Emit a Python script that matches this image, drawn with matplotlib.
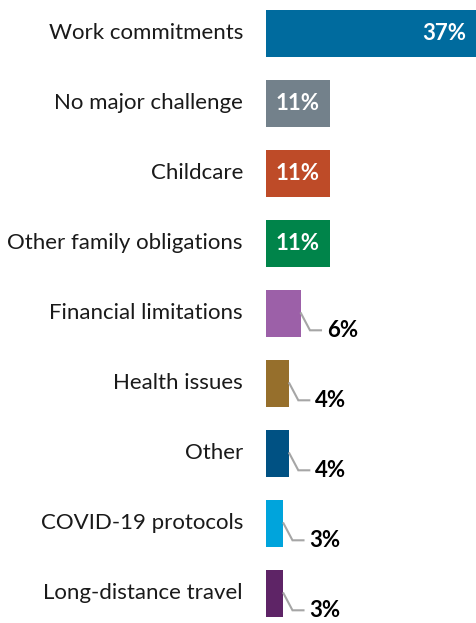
import matplotlib.pyplot as plt

categories = ['Work commitments', 'No major challenge', 'Childcare',
              'Other family obligations', 'Financial limitations',
              'Health issues', 'Other', 'COVID-19 protocols',
              'Long-distance travel']
values = [37, 11, 11, 11, 6, 4, 4, 3, 3]
colors = ['#006b9e', '#73818b', '#be4b28', '#00844a', '#9c60a8',
          '#966f2c', '#005183', '#00a4dc', '#5e2466']

plt.rcParams['font.family'] = ['Lato', 'DejaVu Sans']

W, H = 477, 623
fig = plt.figure(figsize=(W / 100, H / 100), dpi=100)
ax = fig.add_axes([266 / W, 0, 1 - 266 / W, 1])

pitch = 70.0
top = 33.3
xmax = 36.2
ax.set_xlim(0, xmax)
ax.set_ylim((H - top) / pitch, -top / pitch)
ax.axis('off')

# pixel -> data conversions
px_x = xmax / (W - 266)
px_y = 1 / pitch

y = list(range(len(values)))
ax.barh(y, values, height=47 / pitch, color=colors)

fs = 16
for i, (c, v) in enumerate(zip(categories, values)):
    ax.text(-23 * px_x, i, c, ha='right', va='center', fontsize=fs,
            color='#1a1a1a', clip_on=False)
    if v >= 10:
        ax.text(min(v, xmax) - 11 * px_x, i, f'{v}%', ha='right',
                va='center', fontsize=fs, fontweight='bold', color='white')
    else:
        x0 = v
        x1 = v + 9 * px_x
        x2 = x1 + 11 * px_x
        y1 = i + 17 * px_y
        ax.plot([x0, x1, x2], [i, y1, y1], color='#a6a6a6', lw=1.5,
                solid_joinstyle='miter')
        ax.text(x2 + 6 * px_x, y1, f'{v}%', ha='left', va='center',
                fontsize=fs, fontweight='bold', color='black')

fig.savefig('out.png', dpi=100)
